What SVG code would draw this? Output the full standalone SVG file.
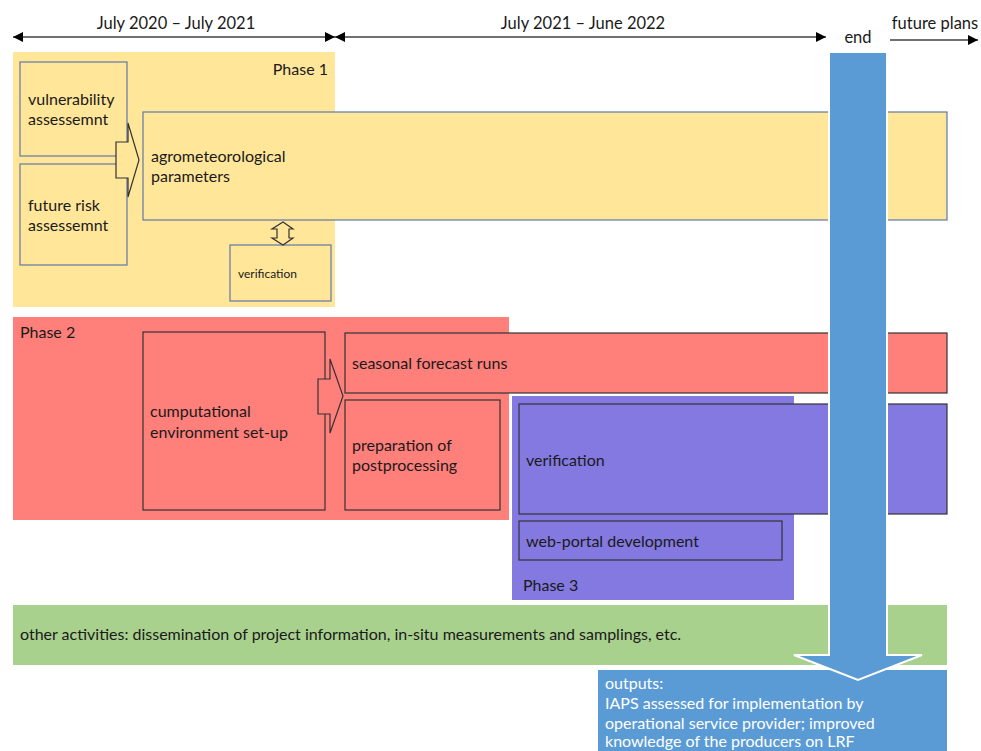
<svg xmlns="http://www.w3.org/2000/svg" width="981" height="751" viewBox="0 0 981 751">
<defs>
<marker id="ah" viewBox="0 0 10 10" refX="10" refY="5" markerWidth="10" markerHeight="10" markerUnits="userSpaceOnUse" orient="auto-start-reverse"><path d="M0,0 L10,5 L0,10 z" fill="#000"/></marker>
<style>
text{font-family:Lato,"Liberation Sans",sans-serif;font-size:16px;fill:#1a1a1a}
.bb{stroke:#6078a8;stroke-width:1.2}
.dk{stroke:#333;stroke-width:1.2}
.yel{fill:#FFE699}
.red{fill:#FF7F7A}
.pur{fill:#8479E0}
.blu{fill:#5B9BD5}
.hd{font-size:16.5px}
.wtx{fill:#fff}
</style>
</defs>
<rect width="981" height="751" fill="#fff"/>
<g id="timeline">
<line x1="13" y1="37" x2="335" y2="37" stroke="#404040" stroke-width="1.5" marker-start="url(#ah)" marker-end="url(#ah)"/>
<line x1="335" y1="37" x2="826" y2="37" stroke="#404040" stroke-width="1.5" marker-start="url(#ah)" marker-end="url(#ah)"/>
<line x1="890" y1="40" x2="978" y2="40" stroke="#404040" stroke-width="1.5" marker-end="url(#ah)"/>
<text x="176" y="29" text-anchor="middle" class="hd">July 2020 – July 2021</text>
<text x="583" y="29" text-anchor="middle" class="hd">July 2021 – June 2022</text>
<text x="858" y="43" text-anchor="middle" class="hd">end</text>
<text x="935" y="29" text-anchor="middle" class="hd">future plans</text>
</g>
<g id="phase1">
<rect x="13" y="52" width="322" height="255" class="yel"/>
<text x="328" y="75" text-anchor="end">Phase 1</text>
</g>
<g id="vulnerability">
<rect x="20" y="62" width="107" height="94" class="yel bb"/>
<text x="28" y="105">vulnerability</text>
<text x="28" y="125">assessemnt</text>
</g>
<g id="futurerisk">
<rect x="20" y="164" width="107" height="101" class="yel bb"/>
<text x="28" y="211">future risk</text>
<text x="28" y="231">assessemnt</text>
</g>
<g id="agro">
<rect x="143" y="112" width="804" height="108" class="yel bb"/>
<text x="151" y="162">agrometeorological</text>
<text x="151" y="182">parameters</text>
</g>
<g id="verif1">
<rect x="230" y="245" width="101" height="56" class="yel bb"/>
<text x="238" y="278" style="font-size:12px">verification</text>
</g>
<g id="phase2">
<rect x="13" y="317" width="496" height="203" class="red"/>
<text x="20" y="338">Phase 2</text>
</g>
<g id="computational">
<rect x="143" y="332" width="182" height="178" class="red dk"/>
<text x="150" y="417">cumputational</text>
<text x="150" y="438">environment set-up</text>
</g>
<g id="seasonal">
<rect x="345" y="333" width="602" height="60" class="red dk"/>
<text x="352" y="369">seasonal forecast runs</text>
</g>
<g id="prep">
<rect x="345" y="400" width="155" height="110" class="red dk"/>
<text x="352" y="451">preparation of</text>
<text x="352" y="471">postprocessing</text>
</g>
<g id="phase3">
<rect x="512" y="396" width="282" height="204" class="pur"/>
<text x="523" y="591">Phase 3</text>
</g>
<g id="verif3">
<rect x="519" y="404" width="428" height="110" class="pur dk"/>
<text x="526" y="466">verification</text>
</g>
<g id="webportal">
<rect x="519" y="521" width="263" height="39" class="pur dk"/>
<text x="526" y="547">web-portal development</text>
</g>
<g id="other">
<rect x="13" y="605" width="934" height="60" fill="#A9D18E"/>
<text x="20" y="640">other activities: dissemination of project information, in-situ measurements and samplings, etc.</text>
</g>
<g id="outputs">
<rect x="598" y="670" width="349" height="81" class="blu"/>
<text x="605" y="689" class="wtx">outputs:</text>
<text x="605" y="709" class="wtx">IAPS assessed for implementation by</text>
<text x="605" y="729" class="wtx">operational service provider; improved</text>
<text x="605" y="747" class="wtx">knowledge of the producers on LRF</text>
</g>
<g id="connectors">
<path d="M116,142 H128 V123 L139,160 L128,197 V178 H116 Z" fill="#FFE699" stroke="#333" stroke-width="1.2"/>
<path d="M283,222 L293,229 H289 V238 H293 L283,245 L272,238 H277 V229 H272 Z" fill="#FFE699" stroke="#333" stroke-width="1.2"/>
<path d="M318,379 H330 V359 L343,396 L330,433 V414 H318 Z" fill="#FF7F7A" stroke="#333" stroke-width="1.2"/>
<path d="M829,52 H887 V655 H922 L858,680 L794,655 H829 Z" fill="#5B9BD5" stroke="#fff" stroke-width="2"/>
</g>
</svg>
